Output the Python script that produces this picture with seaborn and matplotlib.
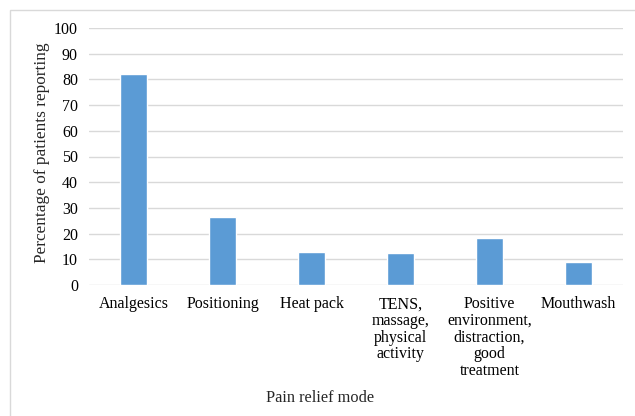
import matplotlib
matplotlib.use("Agg")
import matplotlib.pyplot as plt
import seaborn as sns
import pandas as pd
from matplotlib.patches import Rectangle

categories = [
    "Analgesics",
    "Positioning",
    "Heat pack",
    "TENS,\nmassage,\nphysical\nactivity",
    "Positive\nenvironment,\ndistraction,\ngood\ntreatment",
    "Mouthwash",
]
percentages = [82, 26.3, 12.7, 12.3, 18.2, 9.1]
y_ticks = list(range(0, 101, 10))

df = pd.DataFrame({"mode": categories, "pct": percentages})

sns.set_theme(style="white")
plt.rcParams["font.family"] = ["Liberation Serif", "DejaVu Serif"]

W, H = 635, 416
fig = plt.figure(figsize=(W / 100, H / 100), dpi=100)
ax = fig.add_axes([89 / W, 1 - 285 / H, (623 - 89) / W, (285 - 28) / H])

sns.barplot(data=df, x="mode", y="pct", color="#5b9bd5", saturation=1,
            width=0.31, ax=ax, zorder=3)

ax.set_ylim(0, 100)
ax.set_yticks(y_ticks)
ax.yaxis.grid(True, color="#d9d9d9", linewidth=1.0, zorder=0)
ax.set_axisbelow(True)
for s in ax.spines.values():
    s.set_visible(False)
ax.tick_params(axis="both", length=0, labelsize=11.5, colors="black")
ax.tick_params(axis="y", pad=8)
ax.tick_params(axis="x", pad=8.2)
for lbl in ax.get_xticklabels():
    lbl.set_linespacing(1.05)
    lbl.set_horizontalalignment("center")
ax.set_xlabel("")
ax.set_ylabel("")

fig.text(320 / W, 1 - 398 / H, "Pain relief mode", ha="center", va="center",
         fontsize=11.8)
fig.text(42 / W, 1 - 153 / H, "Percentage of patients reporting", ha="center",
         va="center", rotation=90, fontsize=12.4)

# chart-area frame
fig.patches.append(Rectangle((10 / W, -0.1), 1.2, 1 - 10 / H + 0.1,
                             transform=fig.transFigure, fill=False,
                             edgecolor="#d9d9d9", linewidth=1.0))

fig.savefig("out.png", dpi=100, facecolor="white")
